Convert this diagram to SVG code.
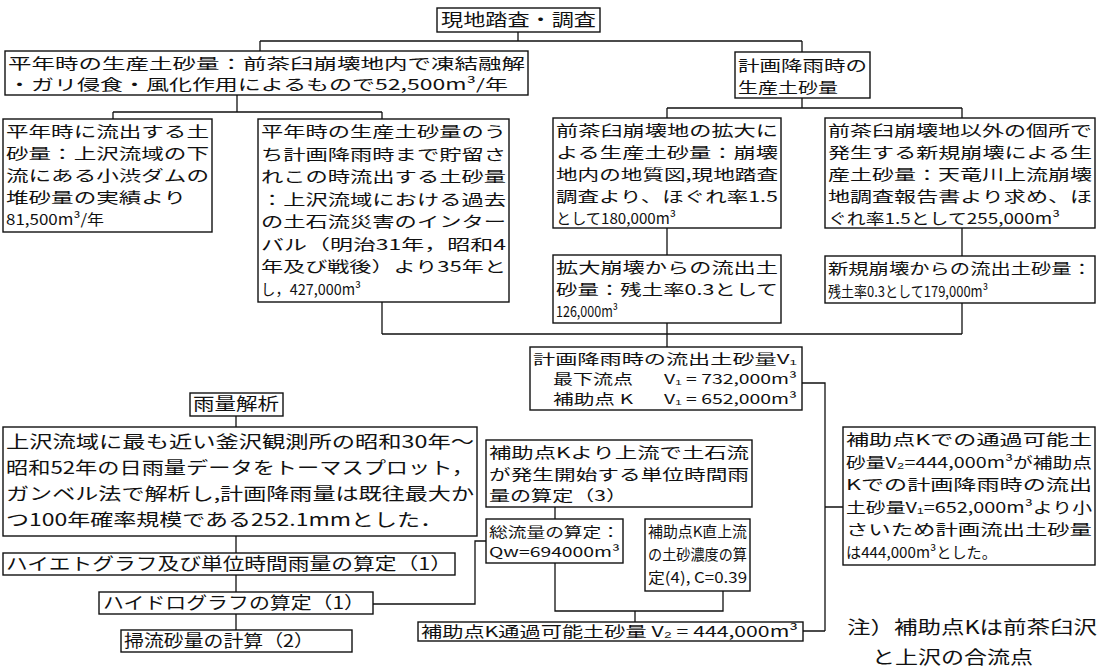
<svg xmlns="http://www.w3.org/2000/svg" width="1100" height="669" viewBox="0 0 1100 669">
<style>
.bx{fill:#fff;stroke:#111;stroke-width:1.4}
.ln{fill:none;stroke:#111;stroke-width:1.3}
text{font-family:"Noto Sans CJK JP","Noto Sans CJK SC",sans-serif;font-size:15px;fill:#111}
.m{font-size:13.5px}
.l{font-size:17px}
.n{font-size:18px}
</style>
<rect width="1100" height="669" fill="#fff"/>
<g id="connectors">
<path class="ln" d="M518 32V41M260 41H802M260 41V51M802 41V52"/>
<path class="ln" d="M237 95V112M113 112H382M113 112V119M382 112V119"/>
<path class="ln" d="M802 98V108M667 108H962M667 108V118M962 108V118"/>
<path class="ln" d="M667 228V255M962 228V256"/>
<path class="ln" d="M382 302V334M962 303V334M382 334H962M667 323V347"/>
<path class="ln" d="M802 383H825V631M825 507H843M803 631H825"/>
<path class="ln" d="M236 416V427M236 536V553M236 575V592M236 614V630"/>
<path class="ln" d="M373 604H475V541H486"/>
<path class="ln" d="M555 507V519M555 563V611H723V591M635 611V622"/>
</g>
<g id="n-survey"><rect class="bx" x="437" y="8" width="163" height="24"/><text class="l" x="441" y="26" textLength="155" lengthAdjust="spacingAndGlyphs">現地踏査・調査</text></g>
<g id="n-normal-prod"><rect class="bx" x="5" y="51" width="523" height="44"/>
<text x="8" y="69" textLength="517" lengthAdjust="spacingAndGlyphs">平年時の生産土砂量：前茶臼崩壊地内で凍結融解</text>
<text x="8" y="90" textLength="500" lengthAdjust="spacingAndGlyphs">・ガリ侵食・風化作用によるもので52,500m³/年</text></g>
<g id="n-normal-out"><rect class="bx" x="3" y="119" width="209" height="113"/>
<text x="6" y="137" textLength="203" lengthAdjust="spacingAndGlyphs">平年時に流出する土</text>
<text x="6" y="159" textLength="203" lengthAdjust="spacingAndGlyphs">砂量：上沢流域の下</text>
<text x="6" y="181" textLength="203" lengthAdjust="spacingAndGlyphs">流にある小渋ダムの</text>
<text x="6" y="203" textLength="180" lengthAdjust="spacingAndGlyphs">堆砂量の実績より</text>
<text x="6" y="225" textLength="98" lengthAdjust="spacingAndGlyphs">81,500m³/年</text></g>
<g id="n-stored"><rect class="bx" x="258" y="119" width="251" height="183"/>
<text x="261" y="137" textLength="245" lengthAdjust="spacingAndGlyphs">平年時の生産土砂量のう</text>
<text x="261" y="159.5" textLength="245" lengthAdjust="spacingAndGlyphs">ち計画降雨時まで貯留さ</text>
<text x="261" y="182" textLength="245" lengthAdjust="spacingAndGlyphs">れこの時流出する土砂量</text>
<text x="261" y="204.5" textLength="245" lengthAdjust="spacingAndGlyphs">：上沢流域における過去</text>
<text x="261" y="227" textLength="245" lengthAdjust="spacingAndGlyphs">の土石流災害のインター</text>
<text x="261" y="249.5" textLength="245" lengthAdjust="spacingAndGlyphs">バル（明治31年，昭和4</text>
<text x="261" y="272" textLength="245" lengthAdjust="spacingAndGlyphs">年及び戦後）より35年と</text>
<text x="261" y="294.5" textLength="100" lengthAdjust="spacingAndGlyphs">し，427,000m³</text></g>
<g id="n-plan-prod"><rect class="bx" x="735" y="52" width="135" height="46"/>
<text x="738" y="71" textLength="129" lengthAdjust="spacingAndGlyphs">計画降雨時の</text>
<text x="738" y="93" textLength="100" lengthAdjust="spacingAndGlyphs">生産土砂量</text></g>
<g id="n-expand"><rect class="bx" x="553" y="118" width="228" height="110"/>
<text x="556" y="136" textLength="222" lengthAdjust="spacingAndGlyphs">前茶臼崩壊地の拡大に</text>
<text x="556" y="158" textLength="222" lengthAdjust="spacingAndGlyphs">よる生産土砂量：崩壊</text>
<text x="556" y="180" textLength="222" lengthAdjust="spacingAndGlyphs">地内の地質図,現地踏査</text>
<text x="556" y="202" textLength="222" lengthAdjust="spacingAndGlyphs">調査より、ほぐれ率1.5</text>
<text x="556" y="224" textLength="120" lengthAdjust="spacingAndGlyphs">として180,000m³</text></g>
<g id="n-new"><rect class="bx" x="825" y="118" width="270" height="110"/>
<text x="828" y="136" textLength="264" lengthAdjust="spacingAndGlyphs">前茶臼崩壊地以外の個所で</text>
<text x="828" y="158" textLength="264" lengthAdjust="spacingAndGlyphs">発生する新規崩壊による生</text>
<text x="828" y="180" textLength="264" lengthAdjust="spacingAndGlyphs">産土砂量：天竜川上流崩壊</text>
<text x="828" y="202" textLength="264" lengthAdjust="spacingAndGlyphs">地調査報告書より求め、ほ</text>
<text x="828" y="224" textLength="232" lengthAdjust="spacingAndGlyphs">ぐれ率1.5として255,000m³</text></g>
<g id="n-expand-out"><rect class="bx" x="553" y="255" width="228" height="68"/>
<text x="556" y="273" textLength="222" lengthAdjust="spacingAndGlyphs">拡大崩壊からの流出土</text>
<text x="556" y="295" textLength="222" lengthAdjust="spacingAndGlyphs">砂量：残土率0.3として</text>
<text x="556" y="317" textLength="62" lengthAdjust="spacingAndGlyphs">126,000m³</text></g>
<g id="n-new-out"><rect class="bx" x="825" y="256" width="270" height="47"/>
<text x="828" y="274" textLength="264" lengthAdjust="spacingAndGlyphs">新規崩壊からの流出土砂量：</text>
<text x="828" y="297" textLength="160" lengthAdjust="spacingAndGlyphs">残土率0.3として179,000m³</text></g>
<g id="n-v1"><rect class="bx" x="530" y="347" width="272" height="63"/>
<text class="m" x="533" y="364" textLength="264" lengthAdjust="spacingAndGlyphs">計画降雨時の流出土砂量V₁</text>
<text class="m" x="553" y="384" textLength="80" lengthAdjust="spacingAndGlyphs">最下流点</text>
<text class="m" x="664" y="384" textLength="133" lengthAdjust="spacingAndGlyphs">V₁ = 732,000m³</text>
<text class="m" x="553" y="404" textLength="80" lengthAdjust="spacingAndGlyphs">補助点 K</text>
<text class="m" x="664" y="404" textLength="133" lengthAdjust="spacingAndGlyphs">V₁ = 652,000m³</text></g>
<g id="n-result"><rect class="bx" x="843" y="427" width="252" height="138"/>
<text x="846" y="445" textLength="246" lengthAdjust="spacingAndGlyphs">補助点Kでの通過可能土</text>
<text x="846" y="467.5" textLength="246" lengthAdjust="spacingAndGlyphs">砂量V₂=444,000m³が補助点</text>
<text x="846" y="490" textLength="246" lengthAdjust="spacingAndGlyphs">Kでの計画降雨時の流出</text>
<text x="846" y="512.5" textLength="246" lengthAdjust="spacingAndGlyphs">土砂量V₁=652,000m³より小</text>
<text x="846" y="535" textLength="246" lengthAdjust="spacingAndGlyphs">さいため計画流出土砂量</text>
<text x="846" y="557.5" textLength="151" lengthAdjust="spacingAndGlyphs">は444,000m³とした。</text></g>
<g id="note">
<text class="n" x="847" y="634" textLength="250" lengthAdjust="spacingAndGlyphs">注）補助点Kは前茶臼沢</text>
<text class="n" x="872" y="664" textLength="161" lengthAdjust="spacingAndGlyphs">と上沢の合流点</text></g>
<g id="n-rain"><rect class="bx" x="190" y="393" width="93" height="23"/>
<text class="l" x="193" y="410" textLength="86" lengthAdjust="spacingAndGlyphs">雨量解析</text></g>
<g id="n-rain-analysis"><rect class="bx" x="3" y="427" width="474" height="109"/>
<text class="l" x="6" y="448" textLength="468" lengthAdjust="spacingAndGlyphs">上沢流域に最も近い釜沢観測所の昭和30年～</text>
<text class="l" x="6" y="474" textLength="468" lengthAdjust="spacingAndGlyphs">昭和52年の日雨量データをトーマスプロット，</text>
<text class="l" x="6" y="500" textLength="468" lengthAdjust="spacingAndGlyphs">ガンベル法で解析し,計画降雨量は既往最大か</text>
<text class="l" x="6" y="526" textLength="437" lengthAdjust="spacingAndGlyphs">つ100年確率規模である252.1mmとした．</text></g>
<g id="n-hyeto"><rect class="bx" x="3" y="553" width="452" height="22"/>
<text class="l" x="6" y="570" textLength="446" lengthAdjust="spacingAndGlyphs">ハイエトグラフ及び単位時間雨量の算定（1）</text></g>
<g id="n-hydro"><rect class="bx" x="99" y="592" width="274" height="22"/>
<text class="l" x="103" y="609" textLength="262" lengthAdjust="spacingAndGlyphs">ハイドログラフの算定（1）</text></g>
<g id="n-bedload"><rect class="bx" x="121" y="630" width="231" height="22"/>
<text class="l" x="124" y="647" textLength="190" lengthAdjust="spacingAndGlyphs">掃流砂量の計算（2）</text></g>
<g id="n-unit-rain"><rect class="bx" x="486" y="440" width="266" height="67"/>
<text x="489" y="458" textLength="260" lengthAdjust="spacingAndGlyphs">補助点Kより上流で土石流</text>
<text x="489" y="479.5" textLength="260" lengthAdjust="spacingAndGlyphs">が発生開始する単位時間雨</text>
<text x="489" y="501" textLength="138" lengthAdjust="spacingAndGlyphs">量の算定（3）</text></g>
<g id="n-qw"><rect class="bx" x="486" y="519" width="137" height="44"/>
<text class="m" x="489" y="537" textLength="131" lengthAdjust="spacingAndGlyphs">総流量の算定：</text>
<text class="m" x="489" y="557" textLength="131" lengthAdjust="spacingAndGlyphs">Qw=694000m³</text></g>
<g id="n-conc"><rect class="bx" x="645" y="519" width="105" height="72"/>
<text x="648" y="537" textLength="99" lengthAdjust="spacingAndGlyphs">補助点K直上流</text>
<text x="648" y="560" textLength="99" lengthAdjust="spacingAndGlyphs">の土砂濃度の算</text>
<text x="648" y="583" textLength="99" lengthAdjust="spacingAndGlyphs">定(4), C=0.39</text></g>
<g id="n-v2"><rect class="bx" x="418" y="622" width="385" height="19"/>
<text x="421" y="637" textLength="377" lengthAdjust="spacingAndGlyphs">補助点K通過可能土砂量 V₂ = 444,000m³</text></g>
</svg>
